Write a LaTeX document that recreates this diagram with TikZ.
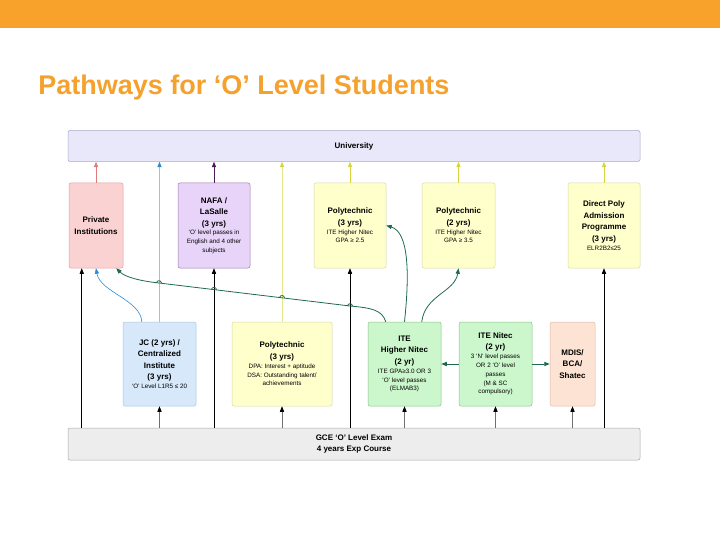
\documentclass[tikz,border=0pt]{standalone}
\usepackage{fontspec}
\setmainfont{Liberation Sans}
\usetikzlibrary{arrows.meta}
\definecolor{barorange}{HTML}{F9A22B}
\definecolor{titleorange}{HTML}{F4A12E}
\definecolor{univfill}{HTML}{E8E8FA}
\definecolor{univdraw}{HTML}{A8A8C8}
\definecolor{privfill}{HTML}{FAD2D2}
\definecolor{privdraw}{HTML}{E0A0A0}
\definecolor{nafafill}{HTML}{E8D4F8}
\definecolor{nafadraw}{HTML}{9A7AA8}
\definecolor{polyfill}{HTML}{FFFFCC}
\definecolor{polydraw}{HTML}{D8D8A8}
\definecolor{jcfill}{HTML}{D6E8FA}
\definecolor{jcdraw}{HTML}{A8C4E0}
\definecolor{itefill}{HTML}{CCF7CC}
\definecolor{itedraw}{HTML}{88C088}
\definecolor{mdisfill}{HTML}{FDE3D3}
\definecolor{mdisdraw}{HTML}{E0B8A8}
\definecolor{gcefill}{HTML}{EDEDED}
\definecolor{gcedraw}{HTML}{A8A8A8}
\definecolor{redarrow}{HTML}{E07B7B}
\definecolor{bluetip}{HTML}{2F8AD6}
\definecolor{blueline}{HTML}{90C8EA}
\definecolor{purplearrow}{HTML}{4E1A5E}
\definecolor{yellowarrow}{HTML}{D6D63C}
\definecolor{yellowline}{HTML}{E6E68C}
\definecolor{greenarrow}{HTML}{1E6B4A}
\definecolor{greyline}{HTML}{707070}
\newcommand{\details}[1]{{\normalfont\fontsize{6.3}{8.8}\selectfont #1\par}}

\begin{document}
\begin{tikzpicture}[x=1pt, y=-1pt, >={Triangle[length=5.5pt,width=4.2pt]}, line width=0.8pt,
    box/.style={draw, rounded corners=2pt, align=flush center, inner sep=0pt, line width=0.5pt,
      font=\bfseries\fontsize{8}{11.5}\selectfont},
    topbox/.style={box, minimum height=85pt},
    lowbox/.style={box, minimum height=84pt},
    wide/.style={box, minimum height=31pt, text width=572pt},
    upline/.style={->, black, line width=0.6pt},
    examline/.style={->, greyline, line width=0.6pt, >={Triangle[length=5.5pt,width=4.2pt,color=black]}},
    itepath/.style={->, greenarrow, line width=0.8pt}]
  % 1. 背景与标题
  \useasboundingbox (0,0) rectangle (720,540);
  \fill[white] (0,0) rectangle (720,540);
  \fill[barorange] (0,0) rectangle (720,28);
  \node[anchor=base west, inner sep=0pt, text=titleorange, font=\bfseries\fontsize{27}{32}\selectfont] (title) at (38,95) {Pathways for ‘O’ Level Students};

  % 2. 大学与考试
  \node[wide, fill=univfill, draw=univdraw] (univ) at (354,146) {University};
  \node[wide, fill=gcefill, draw=gcedraw, minimum height=32pt] (gce) at (354,444) {GCE ‘O’ Level Exam\\4 years Exp Course};

  % 3. 上排
  \node[topbox, fill=privfill, draw=privdraw, text width=54pt] (priv) at (96,225.5) {Private\\Institutions};
  \node[topbox, fill=nafafill, draw=nafadraw, text width=72pt] (nafa) at (214,225.5) {NAFA /\\LaSalle\\(3 yrs)\\\details{‘O’ level passes in\\English and 4 other\\subjects}};
  \node[topbox, fill=polyfill, draw=polydraw, text width=72pt] (polyA) at (350,225.5) {Polytechnic\\(3 yrs)\\\details{ITE Higher Nitec\\GPA ≥ 2.5}};
  \node[topbox, fill=polyfill, draw=polydraw, text width=73pt] (polyB) at (458.5,225.5) {Polytechnic\\(2 yrs)\\\details{ITE Higher Nitec\\GPA ≥ 3.5}};
  \node[topbox, fill=polyfill, draw=polydraw, text width=72pt] (dpp) at (604,225.5) {Direct Poly\\Admission\\Programme\\(3 yrs)\\\details{ELR2B2≤25}};

  % 4. 下排
  \node[lowbox, fill=jcfill, draw=jcdraw, text width=73pt] (jc) at (159.5,364) {JC (2 yrs) /\\Centralized\\Institute\\(3 yrs)\\\details{‘O’ Level L1R5 ≤ 20}};
  \node[lowbox, fill=polyfill, draw=polydraw, text width=100pt] (dpa) at (282,364) {Polytechnic\\(3 yrs)\\\details{DPA: Interest + aptitude\\DSA: Outstanding talent/\\achievements}};
  \node[lowbox, fill=itefill, draw=itedraw, text width=73pt] (hn) at (404.5,364) {ITE\\Higher Nitec\\(2 yr)\\\details{ITE GPA≥3.0 OR 3\\‘O’ level passes\\(ELMAB3)}};
  \node[lowbox, fill=itefill, draw=itedraw, text width=73pt] (nitec) at (495.5,364) {ITE Nitec\\(2 yr)\\\details{3 ‘N’ level passes\\OR 2 ‘O’ level\\passes\\(M \& SC\\compulsory)}};
  \node[lowbox, fill=mdisfill, draw=mdisdraw, text width=45pt] (mdis) at (572.5,364) {MDIS/\\BCA/\\Shatec};

  % 5. 通往大学
  \draw[->, redarrow] (priv.north) -- (priv.north |- univ.south);
  \draw[->, purplearrow] (nafa.north) -- (nafa.north |- univ.south);
  \draw[->, yellowarrow] (polyA.north) -- (polyA.north |- univ.south);
  \draw[->, yellowarrow] (polyB.north) -- (polyB.north |- univ.south);
  \draw[->, yellowarrow] (dpp.north) -- (dpp.north |- univ.south);
  \draw[->, blueline, >={Triangle[length=5.5pt,width=4.2pt,color=bluetip]}] (jc.north) -- (jc.north |- univ.south);
  \draw[->, yellowline, >={Triangle[length=5.5pt,width=4.2pt,color=yellowarrow]}] (dpa.north) -- (dpa.north |- univ.south);

  % 6. 从考试出发
  \coordinate (privin) at ([xshift=13pt]priv.south west);
  \draw[upline] (privin |- gce.north) -- (privin);
  \draw[upline] (nafa.south |- gce.north) -- (nafa.south);
  \draw[upline] (polyA.south |- gce.north) -- (polyA.south);
  \draw[upline] (dpp.south |- gce.north) -- (dpp.south);
  \foreach \n in {jc, dpa, hn, nitec, mdis}
    \draw[examline] (\n.south |- gce.north) -- (\n.south);

  % 7. 曲线
  \coordinate (jcleft) at ([xshift=19pt]jc.north west);
  \coordinate (hnleft) at ([xshift=18pt]hn.north west);
  \coordinate (hnright) at ([xshift=54pt]hn.north west);
  \coordinate (privend) at ([xshift=-7pt]priv.south east);
  \draw[->, bluetip, line width=0.6pt] (jcleft) .. controls (141,300) and (100,292) .. (priv.south);
  \draw[itepath] (hnleft) .. controls (382,310) and (372,308) .. (350,306) -- (159,283)
    .. controls (140,281) and (125,277) .. (privend);
  \foreach \x/\y in {159/283, 214/289.6, 282/297.8, 350/306}
    \draw[greenarrow, line width=0.8pt] (\x-2.5,\y) .. controls (\x-2.5,\y-3) and (\x+2.5,\y-3) .. (\x+2.5,\y);
  \draw[itepath] (hn.north) .. controls (410,270) and (408,232) .. (polyA.east);
  \draw[itepath] (hnright) .. controls (425,295) and (455,292) .. (polyB.south);
  \draw[itepath] (nitec) -- (hn);
  \draw[itepath] (nitec) -- (mdis);
\end{tikzpicture}
\end{document}
